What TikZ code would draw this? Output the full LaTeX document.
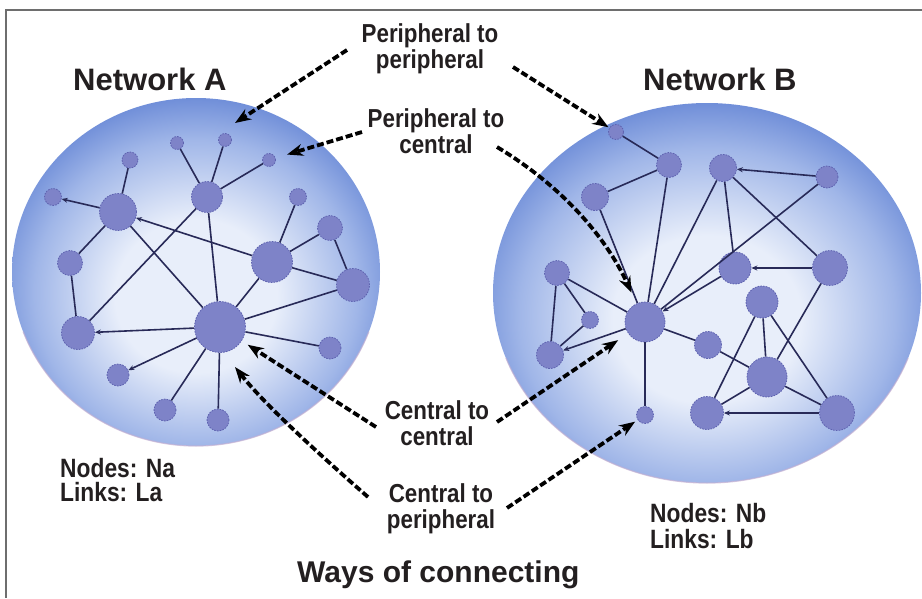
\documentclass[tikz,border=0pt]{standalone}
\usepackage{fontspec}
\setmainfont{Liberation Sans}
\newfontfamily\narrowsans{Liberation Sans}[FakeStretch=0.86]
\usetikzlibrary{arrows.meta}

\definecolor{ink}{RGB}{35,31,32}
\definecolor{framecol}{RGB}{110,110,110}
\definecolor{sphIn}{RGB}{232,238,250}
\definecolor{sphMid}{RGB}{160,182,232}
\definecolor{sphOut}{RGB}{92,126,210}
\definecolor{sphEdge}{RGB}{76,108,198}
\definecolor{vfill}{RGB}{126,131,200}
\definecolor{vline}{RGB}{94,98,176}
\definecolor{edgecol}{RGB}{40,42,88}
\definecolor{rimcol}{RGB}{196,176,210}

% sphere-like radial fill for the two network discs (disc rim at about 35bp)
\pgfdeclareradialshading{sphere}{\pgfpoint{0bp}{-4bp}}{%
  color(0bp)=(sphIn); color(11bp)=(sphIn); color(22bp)=(sphMid);
  color(30bp)=(sphOut); color(34bp)=(sphEdge); color(36bp)=(sphEdge);
  color(80bp)=(sphEdge)}

\begin{document}
\begin{tikzpicture}[x=1pt,y=-1pt,
  vtx/.style={circle, fill=vfill, draw=vline, line width=0.8pt,
    dash pattern=on 1.6pt off 1.2pt, inner sep=0pt, minimum size=#1},
  link/.style={draw=edgecol, line width=1.6pt},
  dlink/.style={link, -{Stealth[length=6pt,width=5pt]}},
  pointer/.style={draw=black, line width=3.8pt, dash pattern=on 7pt off 3pt,
    -{Stealth[length=16pt,width=12pt]}},
  title/.style={font=\fontsize{31}{34}\selectfont\bfseries, text=ink, inner sep=0pt},
  lbl/.style={font=\narrowsans\fontsize{26}{26}\selectfont\bfseries, text=ink,
    align=center, inner sep=0pt},
  stat/.style={font=\narrowsans\fontsize{26.5}{27}\selectfont\bfseries, text=ink,
    inner sep=0pt, anchor=base west},
  rim/.style={draw=rimcol, line width=1.2pt, opacity=0.7}]

\useasboundingbox (0,0) rectangle (922,598);

% frame
\draw[framecol, line width=1.4pt] (922,10) -- (6,10) -- (6,598);

% network discs
\shade[shading=sphere] (196,272) ellipse [x radius=184, y radius=174];
\shade[shading=sphere] (707,293) ellipse [x radius=214, y radius=190];
\draw[rim] (196,272) ++(20:184 and 174) arc [start angle=20, end angle=160, x radius=184, y radius=174];
\draw[rim] (707,293) ++(20:214 and 190) arc [start angle=20, end angle=160, x radius=214, y radius=190];

% ---------- Network A ----------
\node[vtx=17] (n1) at (53,197) {};
\node[vtx=16] (n2) at (130,160) {};
\node[vtx=13] (n3) at (177,143) {};
\node[vtx=13] (n4) at (225,140) {};
\node[vtx=13] (n5) at (269,160) {};
\node[vtx=31] (n6) at (207,197) {};
\node[vtx=37] (n7) at (118,212) {};
\node[vtx=17] (n8) at (298,197) {};
\node[vtx=25] (n9) at (330,228) {};
\node[vtx=41] (n10) at (272,262) {};
\node[vtx=25] (n11) at (70,263) {};
\node[vtx=33] (n12) at (353,285) {};
\node[vtx=51] (n13) at (220,327) {};
\node[vtx=33] (n14) at (78,333) {};
\node[vtx=22] (n15) at (330,348) {};
\node[vtx=22] (n16) at (118,375) {};
\node[vtx=22] (n17) at (165,410) {};
\node[vtx=22] (n18) at (218,420) {};

\draw[dlink] (n7) -- (n1);
\draw[link] (n7) -- (n2);
\draw[link] (n6) -- (n3);
\draw[link] (n6) -- (n4);
\draw[link] (n6) -- (n5);
\draw[link] (n7) -- (n11);
\draw[link] (n11) -- (n14);
\draw[link] (n7) -- (n13);
\draw[link] (n6) -- (n14);
\draw[link] (n6) -- (n13);
\draw[dlink] (n10) -- (n7);
\draw[link] (n10) -- (n8);
\draw[link] (n10) -- (n9);
\draw[link] (n9) -- (n12);
\draw[link] (n10) -- (n12);
\draw[link] (n10) -- (n13);
\draw[link] (n12) -- (n13);
\draw[dlink] (n13) -- (n14);
\draw[link] (n13) -- (n15);
\draw[dlink] (n13) -- (n16);
\draw[link] (n13) -- (n17);
\draw[link] (n13) -- (n18);

% ---------- Network B ----------
\node[vtx=15] (m1) at (616,132) {};
\node[vtx=25] (m2) at (669,165) {};
\node[vtx=27] (m3) at (595,197) {};
\node[vtx=27] (m4) at (723,168) {};
\node[vtx=22] (m5) at (827,177) {};
\node[vtx=32] (m6) at (735,268) {};
\node[vtx=35] (m7) at (830,268) {};
\node[vtx=25] (m8) at (557,273) {};
\node[vtx=17] (m9) at (590,320) {};
\node[vtx=40] (m10) at (645,322) {};
\node[vtx=32] (m11) at (762,302) {};
\node[vtx=27] (m12) at (708,345) {};
\node[vtx=27] (m13) at (550,355) {};
\node[vtx=40] (m14) at (767,377) {};
\node[vtx=17] (m15) at (645,415) {};
\node[vtx=33] (m16) at (707,413) {};
\node[vtx=35] (m17) at (837,413) {};

\draw[link] (m1) -- (m2);
\draw[link] (m2) -- (m3);
\draw[link] (m2) -- (m10);
\draw[link] (m3) -- (m10);
\draw[link] (m4) -- (m10);
\draw[dlink] (m5) -- (m4);
\draw[link] (m4) -- (m6);
\draw[link] (m4) -- (m7);
\draw[link] (m5) -- (m10);
\draw[dlink] (m6) -- (m10);
\draw[dlink] (m7) -- (m6);
\draw[link] (m8) -- (m10);
\draw[link] (m8) -- (m9);
\draw[link] (m8) -- (m13);
\draw[link] (m9) -- (m13);
\draw[dlink] (m10) -- (m13);
\draw[link] (m10) -- (m12);
\draw[link] (m10) -- (m15);
\draw[link] (m12) -- (m14);
\draw[link] (m11) -- (m14);
\draw[link] (m11) -- (m16);
\draw[link] (m11) -- (m17);
\draw[link] (m7) -- (m14);
\draw[link] (m14) -- (m16);
\draw[link] (m14) -- (m17);
\draw[dlink] (m17) -- (m16);

% ---------- titles and labels ----------
\node[title, anchor=base west] (tA) at (73,90) {Network A};
\node[title, anchor=base west] (tB) at (643,90) {Network B};
\node[title, anchor=base west, font=\fontsize{30}{33}\selectfont\bfseries] (tW) at (297,582) {Ways of connecting};

% multi-line labels: the base anchor sits on the last line
\node[lbl, anchor=base] (lpp) at (430,68) {Peripheral to\\peripheral};
\node[lbl, anchor=base] (lpc) at (436,153) {Peripheral to\\central};
\node[lbl, anchor=base] (lcc) at (437,445) {Central to\\central};
\node[lbl, anchor=base] (lcp) at (441,528) {Central to\\peripheral};

\node[stat] (sA1) at (60,477) {Nodes: Na};
\node[stat] (sA2) at (60,501) {Links: La};
\node[stat] (sB1) at (650,522) {Nodes: Nb};
\node[stat] (sB2) at (650,548) {Links: Lb};

% ---------- dashed pointers ----------
\coordinate (ppL) at (347,50);   \coordinate (ppLtip) at (235,123);
\coordinate (ppR) at (513,67);
\coordinate (pcL) at (362,132);
\coordinate (pcR) at (497,147);
\coordinate (ccL) at (376,427);
\coordinate (ccR) at (497,422);
\coordinate (cpL) at (368,497);  \coordinate (cpLtip) at (235,367);
\coordinate (cpR) at (507,508);

\draw[pointer] (ppL) -- (ppLtip);
\draw[pointer, shorten >=1pt] (ppR) -- (m1);
\draw[pointer, shorten >=12pt] (pcL) -- (n5);
\draw[pointer, shorten >=12pt] (pcR) .. controls (560,185) and (605,235) .. (m10);
\draw[pointer, shorten >=7pt] (ccL) -- (n13);
\draw[pointer, shorten >=12pt] (ccR) -- (m10);
\draw[pointer] (cpL) .. controls (320,455) and (265,405) .. (cpLtip);
\draw[pointer, shorten >=3pt] (cpR) -- (m15);

\end{tikzpicture}
\end{document}
